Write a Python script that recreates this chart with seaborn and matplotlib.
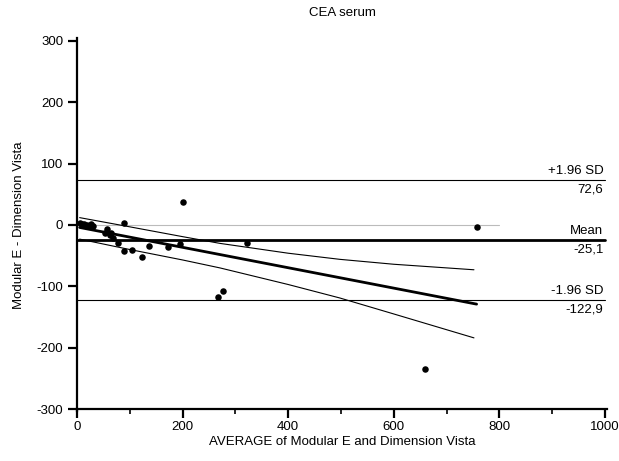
import numpy as np
import pandas as pd
import matplotlib
matplotlib.use("Agg")
import matplotlib.pyplot as plt
from matplotlib.ticker import MultipleLocator
import seaborn as sns

# Bland-Altman data
avg_vals = [6, 10, 14, 18, 22, 26, 30, 53, 56, 62, 64, 69, 78, 89, 89, 105, 124,
            136, 173, 195, 201, 267, 277, 322, 659, 757]
diff_vals = [3, 1, 2, 0, -1, 1, -2, -12.5, -7, -16, -12.5, -22, -30, 3, -42, -40, -52,
             -34, -36, -31, 38, -118, -108, -30, -235, -3]

mean_diff = -25.1
sd_upper = 72.6
sd_lower = -122.9

# regression line of differences and its 95% confidence curves
reg_x = [5, 757]
reg_y = [-4, -129]
ci_x = [5, 100, 200, 271, 400, 498, 600, 752]
ci_upper = [12, -3, -19, -30, -46, -56, -64, -73]
ci_lower = [-23, -40, -57, -70, -97, -119, -145, -184]

sns.set_style("ticks")
plt.rcParams["font.family"] = ["Liberation Sans", "DejaVu Sans"]
plt.rcParams["axes.unicode_minus"] = False
for key in ["text.color", "axes.labelcolor", "xtick.color", "ytick.color", "axes.edgecolor"]:
    plt.rcParams[key] = "black"

fig = plt.figure(figsize=(6.19, 4.61), dpi=100)
ax = fig.add_axes([0.1244, 0.1074, 0.8562, 0.8091])

# zero reference line
ax.plot([0, 800], [0, 0], color="#bbbbbb", lw=0.8, zorder=1)

# mean and limits of agreement
ax.plot([0, 1000], [mean_diff, mean_diff], color="black", lw=2.0, zorder=2)
ax.plot([0, 1000], [sd_upper, sd_upper], color="black", lw=0.8, zorder=2)
ax.plot([0, 1000], [sd_lower, sd_lower], color="black", lw=0.8, zorder=2)

reg_df = pd.DataFrame({"x": reg_x, "y": reg_y})
ci_df = pd.DataFrame({"x": ci_x, "upper": ci_upper, "lower": ci_lower})
sns.lineplot(data=reg_df, x="x", y="y", color="black", lw=2.0, ax=ax, zorder=3)
sns.lineplot(data=ci_df, x="x", y="upper", color="black", lw=0.8, ax=ax, zorder=3)
sns.lineplot(data=ci_df, x="x", y="lower", color="black", lw=0.8, ax=ax, zorder=3)

pts = pd.DataFrame({"avg": avg_vals, "diff": diff_vals})
sns.scatterplot(data=pts, x="avg", y="diff", color="black", s=22, linewidth=0,
                ax=ax, zorder=4)

fs = 9.5
ax.text(997, sd_upper + 5, "+1.96 SD", ha="right", va="bottom", fontsize=fs)
ax.text(997, sd_upper - 5, f"{sd_upper:.1f}".replace(".", ","), ha="right", va="top", fontsize=fs)
ax.text(997, mean_diff + 5, "Mean", ha="right", va="bottom", fontsize=fs)
ax.text(997, mean_diff - 5, f"{mean_diff:.1f}".replace(".", ","), ha="right", va="top", fontsize=fs)
ax.text(997, sd_lower + 5, "-1.96 SD", ha="right", va="bottom", fontsize=fs)
ax.text(997, sd_lower - 5, f"{sd_lower:.1f}".replace(".", ","), ha="right", va="top", fontsize=fs)

ax.set_xlim(0, 1004)
ax.set_ylim(-304, 304)
ax.spines["top"].set_visible(False)
ax.spines["right"].set_visible(False)
ax.spines["bottom"].set_position(("data", -300))
ax.spines["left"].set_linewidth(1.6)
ax.spines["bottom"].set_linewidth(1.6)

ax.xaxis.set_major_locator(MultipleLocator(200))
ax.xaxis.set_minor_locator(MultipleLocator(100))
ax.yaxis.set_major_locator(MultipleLocator(100))
ax.tick_params(axis="both", which="major", direction="out", length=6.5, width=1.6,
               labelsize=fs, color="black", labelcolor="black")
ax.tick_params(axis="x", which="major", pad=2)
ax.tick_params(axis="x", which="minor", direction="out", length=3.5, width=1.2,
               color="black")

ax.set_xlabel("AVERAGE of Modular E and Dimension Vista", fontsize=fs, labelpad=2)
ax.set_ylabel("Modular E - Dimension Vista", fontsize=fs, labelpad=8)
ax.set_title("CEA serum", fontsize=fs, pad=16)

fig.savefig("out.png", dpi=100)
